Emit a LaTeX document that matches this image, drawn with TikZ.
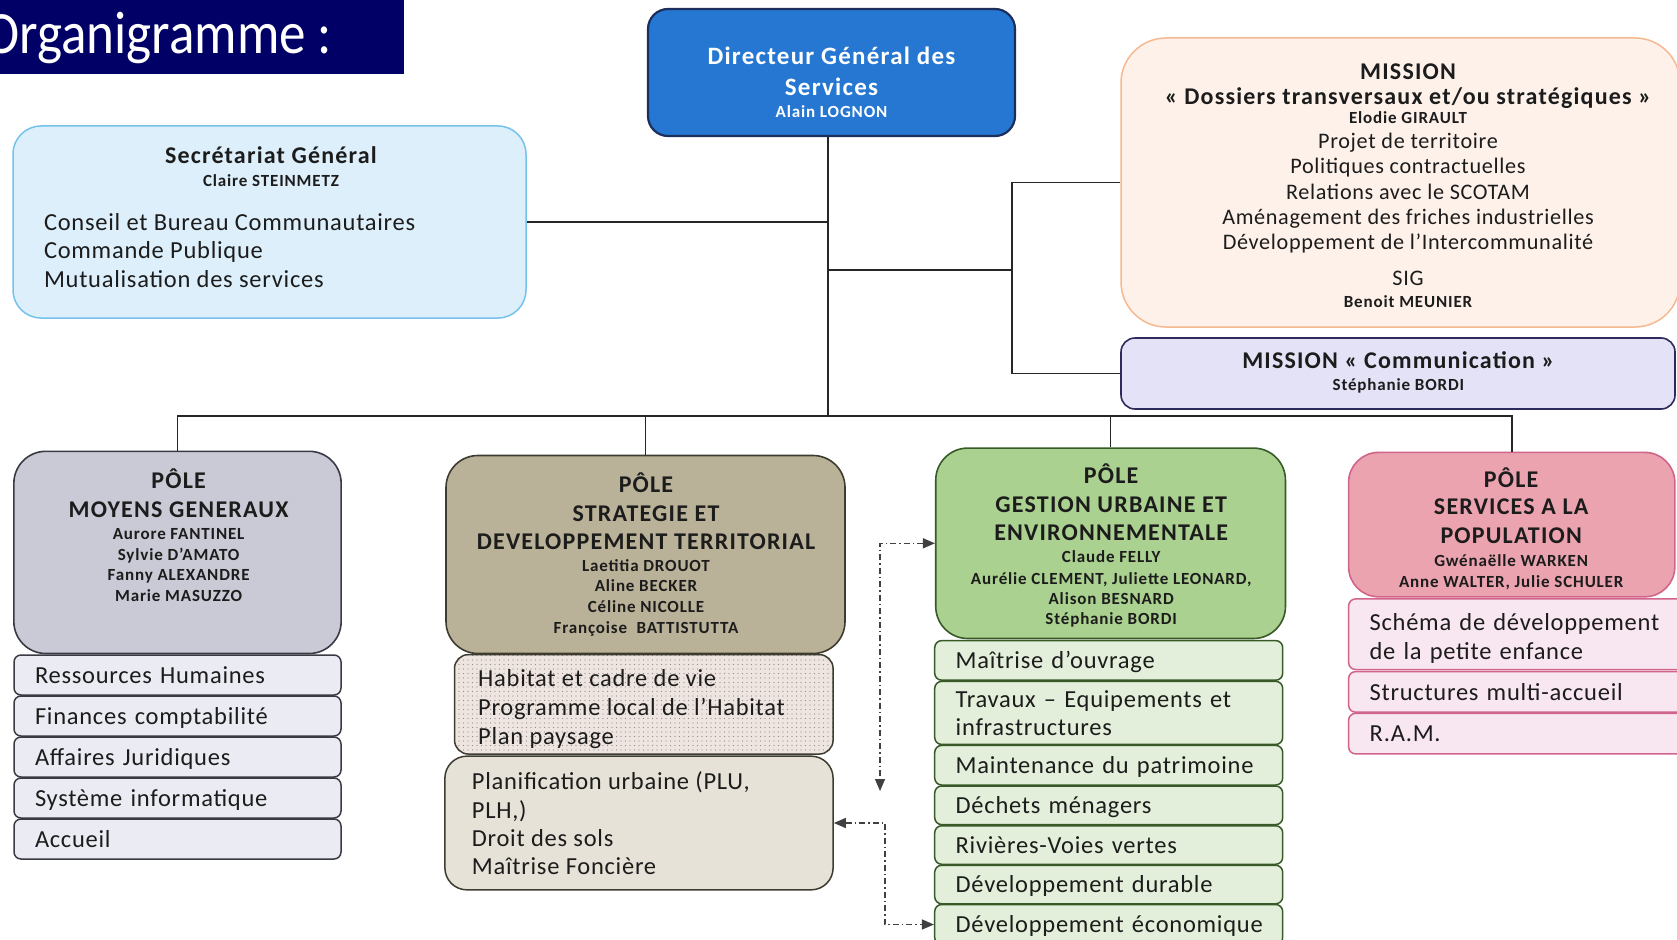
\documentclass[tikz,border=0pt]{standalone}
\usepackage{fontspec}
\usepackage{graphicx}
\setmainfont{Carlito}
\newfontfamily\bodyfont{Carlito}[LetterSpace=3]
\newfontfamily\headfont{Carlito}[LetterSpace=5]
\usetikzlibrary{arrows.meta, patterns.meta}

\definecolor{ink}{HTML}{1C1C1C}
\definecolor{titlebg}{HTML}{000066}
\definecolor{dgsfill}{HTML}{2577D2}
\definecolor{dgsline}{HTML}{1C2E5C}
\definecolor{sgfill}{HTML}{DDEFFB}
\definecolor{sgline}{HTML}{75C2EB}
\definecolor{mafill}{HTML}{FEF1EA}
\definecolor{maline}{HTML}{F6B88E}
\definecolor{mbfill}{HTML}{E4E2F6}
\definecolor{mbline}{HTML}{2D2B5C}
\definecolor{mgfill}{HTML}{C9CAD6}
\definecolor{mgitem}{HTML}{EBEBF3}
\definecolor{mgline}{HTML}{3A3A45}
\definecolor{sdfill}{HTML}{BAB298}
\definecolor{sditem}{HTML}{E7E2D7}
\definecolor{habfill}{HTML}{EFE5E0}
\definecolor{sdline}{HTML}{3E3C30}
\definecolor{gufill}{HTML}{AAD18F}
\definecolor{guitem}{HTML}{E3EFDA}
\definecolor{guline}{HTML}{385A28}
\definecolor{spfill}{HTML}{EBA4AF}
\definecolor{spitem}{HTML}{F8E7F1}
\definecolor{spline}{HTML}{D0648A}

\newcommand\fbody[1][28]{\lineskiplimit=-99pt\bodyfont\fontsize{24.5}{#1}\selectfont}
\newcommand\fmis{\lineskiplimit=-99pt\bodyfont\fontsize{22.2}{25.3}\selectfont}
\newcommand\fhead{\lineskiplimit=-99pt\headfont\bfseries\fontsize{24}{29}\selectfont}
\newcommand\fname{\lineskiplimit=-99pt\headfont\bfseries\fontsize{17}{20.3}\selectfont}
\newcommand\fdgs{\lineskiplimit=-99pt\headfont\bfseries\fontsize{25}{31}\selectfont}
\newcommand\st{\rule{0pt}{22pt}}

\tikzset{
  panel/.style={draw, line width=1.6pt, rounded corners=#1, inner sep=0pt},
  panel/.default=30pt,
  txt/.style={inner sep=0pt, align=center, anchor=north},
  list/.style={inner sep=0pt, align=left, anchor=north west},
  item/.style={draw, line width=1.5pt, rounded corners=7pt, inner xsep=21pt, inner ysep=0pt,
    text width=#1, align=left, font=\fbody},
  oneline/.style={text height=19pt, text depth=2.5pt, minimum height=40pt},
  wire/.style={line width=1.6pt, draw=black!85},
  link/.style={line width=1.4pt, draw=black!75, dash pattern=on 6pt off 3pt on 1.5pt off 3pt,
    >={Triangle[length=12pt,width=10pt]}, <->}
}

\begin{document}
\begin{tikzpicture}[x=1pt, y=-1pt, every node/.append style={text=ink}]
\useasboundingbox (0,0) rectangle (1677,939);

% Title
\node[fill=titlebg, minimum width=404pt, minimum height=74pt, inner sep=0pt, anchor=north west] (ttl) at (0,0) {};
\node[text=white, anchor=base west, inner sep=0pt, font=\fontsize{60}{60}\selectfont] (ttlt) at (-16,53.5) {\scalebox{0.885}[1]{Organigramme :}};

% Direction
\node[panel=20pt, fill=dgsfill, draw=dgsline, line width=2.2pt, minimum width=367pt, minimum height=127pt] (dgs) at (831.5,72.5) {};
\node[txt, text=white, font=\fdgs] (dgst) at (831.5,42) {\st Directeur Général des\\Services\\[-8.5pt]{\fname Alain LOGNON}};

% Secretariat
\node[panel=28pt, fill=sgfill, draw=sgline, line width=1.5pt, minimum width=513pt, minimum height=192pt] (sg) at (269.5,222) {};
\node[txt, font=\fname] (sgt) at (271,141.4) {\st{\fhead Secrétariat Général}\\[2.5pt]Claire STEINMETZ};
\node[list, font={\fbody[28.3]}] (sgl) at (43.8,208.4) {\st Conseil et Bureau Communautaires\\Commande Publique\\Mutualisation des services};

% Missions
\node[panel=45pt, fill=mafill, draw=maline, line width=1.5pt, minimum width=559pt, minimum height=289pt] (ma) at (1400.5,182.5) {};
\node[txt, font=\fmis] (mat) at (1408,57.4) {\st{\fhead MISSION}\\[-0.7pt]{\fhead « Dossiers transversaux et/ou stratégiques »}\\[-6.2pt]{\fname Elodie GIRAULT}\\[0pt]Projet de territoire\\Politiques contractuelles\\Relations avec le SCOTAM\\Aménagement des friches industrielles\\Développement de l’Intercommunalité\\[10pt]SIG\\[-3.1pt]{\fname Benoit MEUNIER}};
\node[panel=14pt, fill=mbfill, draw=mbline, minimum width=554pt, minimum height=71pt] (mb) at (1398,373.5) {};
\node[txt, font=\fname] (mbt) at (1398.4,346.1) {\st{\fhead MISSION « Communication »}\\[2.1pt]Stéphanie BORDI};

% Poles
\node[panel=32pt, fill=mgfill, draw=mgline, minimum width=327.3pt, minimum height=202.2pt] (mg) at (177.5,552.4) {};
\node[txt, font=\fname] (mgt) at (178.6,466.4) {\st{\fhead PÔLE}\\[8.6pt]{\fhead MOYENS GENERAUX}\\[2.1pt]Aurore FANTINEL\\Sylvie D’AMATO\\Fanny ALEXANDRE\\[1.1pt]Marie MASUZZO};

\node[panel=32pt, fill=sdfill, draw=sdline, minimum width=399pt, minimum height=198pt] (sd) at (645.5,554.5) {};
\node[txt, font=\fname] (sdt) at (646,470.2) {\st{\fhead PÔLE}\\[8.6pt]{\fhead STRATEGIE ET}\\[7.5pt]{\fhead DEVELOPPEMENT TERRITORIAL}\\[2.1pt]Laetitia DROUOT\\Aline BECKER\\Céline NICOLLE\\[1.1pt]Françoise~ BATTISTUTTA};

\node[panel=32pt, fill=gufill, draw=guline, minimum width=349.7pt, minimum height=190.4pt] (gu) at (1110.6,543.3) {};
\node[txt, font=\fname] (gut) at (1111.2,461.6) {\st{\fhead PÔLE}\\[8.6pt]{\fhead GESTION URBAINE ET}\\[7.5pt]{\fhead ENVIRONNEMENTALE}\\[2.1pt]Claude FELLY\\[1.1pt]Aurélie CLEMENT, Juliette LEONARD,\\Alison BESNARD\\Stéphanie BORDI};

\node[panel=30pt, fill=spfill, draw=spline, minimum width=326.2pt, minimum height=144.4pt] (sp) at (1511.7,524.6) {};
\node[txt, font=\fname] (spt) at (1511.2,464.8) {\st{\fhead PÔLE}\\[7.5pt]{\fhead SERVICES A LA}\\[8.6pt]{\fhead POPULATION}\\[2.1pt]Gwénaëlle WARKEN\\[1.1pt]Anne WALTER, Julie SCHULER};

% Services of each pole
\foreach \t [count=\i] in {Ressources Humaines, Finances comptabilité, Affaires Juridiques, Système informatique, Accueil}
  \node[item=285pt, oneline, fill=mgitem, draw=mgline] (mg\i) at (177.5,{675+41*(\i-1)}) {\t};

\node[panel=14pt, draw=sdline, line width=1.5pt, preaction={fill=habfill}, pattern={Dots[distance=4.5pt, radius=0.7pt]}, pattern color=black!45, minimum width=378.6pt, minimum height=99.5pt] (hab) at (643.8,704.3) {};
\node[list, font={\fbody[28.9]}] (habt) at (478,664) {\st Habitat et cadre de vie\\Programme local de l’Habitat\\Plan paysage};
\node[panel=22pt, fill=sditem, draw=sdline, line width=1.5pt, minimum width=388.2pt, minimum height=133.7pt] (pl) at (639,823) {};
\node[list, font={\fbody[28.4]}] (plt) at (471.7,767.4) {\st Planification urbaine (PLU,\\PLH,)\\Droit des sols\\Maîtrise Foncière};

\node[item=306pt, oneline, fill=guitem, draw=guline, minimum height=39.6pt] (mo) at (1108.7,660.4) {Maîtrise d’ouvrage};
\node[item=306pt, fill=guitem, draw=guline, minimum height=63.1pt] (tr) at (1108.7,712.9) {Travaux – Equipements et\\infrastructures};
\node[item=306pt, oneline, fill=guitem, draw=guline, minimum height=39.6pt] (mp) at (1108.7,765.2) {Maintenance du patrimoine};
\node[item=306pt, oneline, fill=guitem, draw=guline, minimum height=38.6pt] (dm) at (1108.7,805.3) {Déchets ménagers};
\node[item=306pt, oneline, fill=guitem, draw=guline, minimum height=38.5pt] (rv) at (1108.7,845) {Rivières-Voies vertes};
\node[item=306pt, oneline, fill=guitem, draw=guline, minimum height=38.5pt] (dd) at (1108.7,884.5) {Développement durable};
\node[item=306pt, oneline, fill=guitem, draw=guline, minimum height=40pt] (de) at (1108.7,924.5) {\mbox{Développement économique}};

\node[item=306pt, fill=spitem, draw=spline, minimum height=70.6pt, font={\fbody[28.9]}] (sch) at (1522.6,634.2) {\rule{0pt}{25pt}Schéma de développement\\de la petite enfance};
\node[item=306pt, oneline, fill=spitem, draw=spline, minimum height=40.6pt] (sm) at (1522.6,691.9) {Structures multi-accueil};
\node[item=306pt, oneline, fill=spitem, draw=spline, minimum height=40.6pt] (ram) at (1522.6,733.6) {R.A.M.};

% Hierarchy lines
\coordinate (trunk) at (828,416);
\coordinate (mj) at (1012,270);
\draw[wire] (dgs.south -| trunk) -- (trunk);
\draw[wire] (sg.east) -- (sg.east -| trunk);
\draw[wire] (trunk |- mj) -- (mj);
\draw[wire] (ma.west) -| (mj) |- (mb.west);
\draw[wire] (mg.north) |- (trunk) -| (sp.north);
\draw[wire] (sd.north) -- (sd.north |- trunk);
\draw[wire] (gu.north) -- (gu.north |- trunk);

% Cross links
\coordinate (lkA) at (880,791);
\coordinate (lkB) at (885,924.5);
\draw[link] (gu.west) -| (lkA);
\draw[link] (pl.east) -| (lkB) -- (de.west);
\end{tikzpicture}
\end{document}
